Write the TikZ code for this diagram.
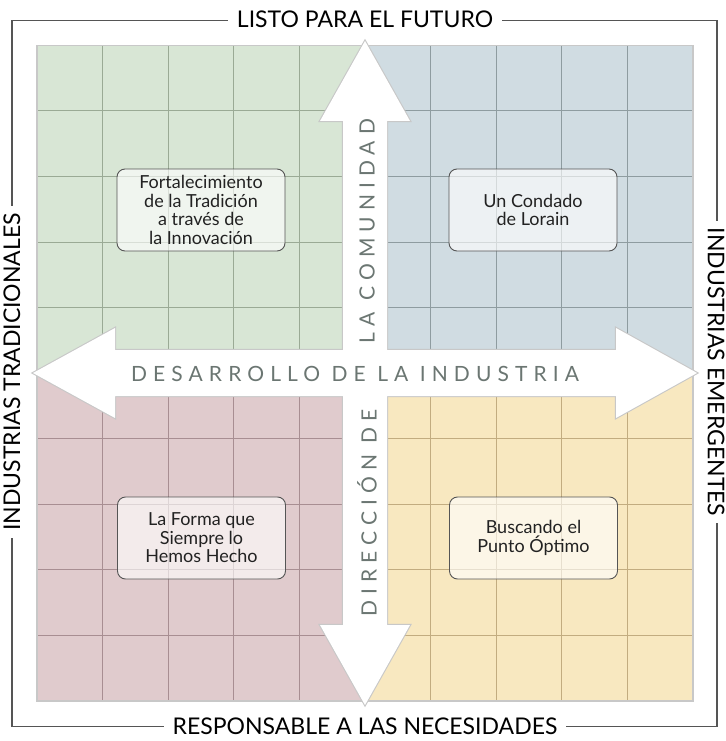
\documentclass[tikz,border=0pt]{standalone}
\usepackage{fontspec}
\setmainfont{Lato}
\newfontfamily\spaced[LetterSpace=29]{Lato}
\definecolor{qgreen}{HTML}{D8E6D5}
\definecolor{qblue}{HTML}{D0DCE2}
\definecolor{qpink}{HTML}{E0CBCD}
\definecolor{qyellow}{HTML}{F8E8C0}
\definecolor{lgreen}{HTML}{9AAA95}
\definecolor{lblue}{HTML}{8E9CA0}
\definecolor{lpink}{HTML}{A88E92}
\definecolor{lyellow}{HTML}{C2AC80}
\definecolor{frame}{HTML}{555555}
\definecolor{arrowedge}{HTML}{C8C8C8}
\definecolor{arrowtext}{HTML}{6B7672}
\definecolor{boxtext}{HTML}{222222}
\tikzset{
  framelabel/.style={fill=white,inner xsep=9pt,inner ysep=2pt,font=\fontsize{23}{26}\selectfont,text=black},
  quadbox/.style={draw=frame,line width=0.9pt,rounded corners=8pt,fill=white,fill opacity=0.62,text opacity=1,
    minimum width=168pt,minimum height=82pt,align=center,text=boxtext,font=\fontsize{18}{18.4}\selectfont},
  arrowlabel/.style={text=arrowtext,font=\fontsize{21}{24}\spaced,inner sep=0pt},
  gridline/.style={line width=1pt}
}
\begin{document}
\begin{tikzpicture}[x=1pt,y=-1pt]
\useasboundingbox (0,0) rectangle (725,741);
% frame
\draw[frame,line width=1.1pt] (12,20.5) rectangle (717,726.5);
% quadrants
\fill[qgreen] (37,45.5) rectangle (365,373);
\fill[qblue] (365,45.5) rectangle (693,373);
\fill[qpink] (37,373) rectangle (365,701);
\fill[qyellow] (365,373) rectangle (693,701);
% grid lines
\foreach \k in {1,...,4}{
  \draw[gridline,lgreen] ({37+\k*65.6},45.5) -- ({37+\k*65.6},373);
  \draw[gridline,lgreen] (37,{45.5+\k*65.5}) -- (365,{45.5+\k*65.5});
  \draw[gridline,lblue] ({365+\k*65.6},45.5) -- ({365+\k*65.6},373);
  \draw[gridline,lblue] (365,{45.5+\k*65.5}) -- (693,{45.5+\k*65.5});
  \draw[gridline,lpink] ({37+\k*65.6},373) -- ({37+\k*65.6},701);
  \draw[gridline,lpink] (37,{373+\k*65.5}) -- (365,{373+\k*65.5});
  \draw[gridline,lyellow] ({365+\k*65.6},373) -- ({365+\k*65.6},701);
  \draw[gridline,lyellow] (365,{373+\k*65.5}) -- (693,{373+\k*65.5});
}
\draw[arrowedge,line width=1.3pt] (37,45.5) rectangle (693,701);
% arrows: outlines first, then white fill on top
\def\harrow{(33,373) -- (115,328) -- (115,350) -- (616,350) -- (616,328) -- (697,373) -- (616,418) -- (616,396) -- (115,396) -- (115,418) -- cycle}
\def\varrow{(365,41) -- (410,121) -- (387,121) -- (387,625) -- (410,625) -- (365,705) -- (320,625) -- (343,625) -- (343,121) -- (320,121) -- cycle}
\draw[arrowedge,line width=2.2pt,line join=miter] \harrow;
\draw[arrowedge,line width=2.2pt,line join=miter] \varrow;
\fill[white] \harrow;
\fill[white] \varrow;
% arrow labels
\node[arrowlabel] (hlab) at (355,374) {DESARROLLO DE LA INDUSTRIA};
\node[arrowlabel,rotate=90] (vtop) at (367,231) {LA COMUNIDAD};
\node[arrowlabel,rotate=90] (vbot) at (367,513) {DIRECCIÓN DE};
% boxes
\node[quadbox] (q1) at (201,210) {Fortalecimiento\\de la Tradición\\a través de\\la Innovación};
\node[quadbox] (q2) at (533,210) {Un Condado\\de Lorain};
\node[quadbox] (q3) at (201.5,538) {La Forma que\\Siempre lo\\Hemos Hecho};
\node[quadbox] (q4) at (533.5,538) {Buscando el\\Punto Óptimo};
% frame labels
\node[framelabel] (top) at (365,19) {LISTO PARA EL FUTURO};
\node[framelabel] (bottom) at (365,726) {RESPONSABLE A LAS NECESIDADES};
\node[framelabel,rotate=90,inner xsep=7pt] (left) at (12,372) {INDUSTRIAS TRADICIONALES};
\node[framelabel,rotate=-90,inner xsep=7pt] (right) at (716,372) {INDUSTRIAS EMERGENTES};
\end{tikzpicture}
\end{document}
